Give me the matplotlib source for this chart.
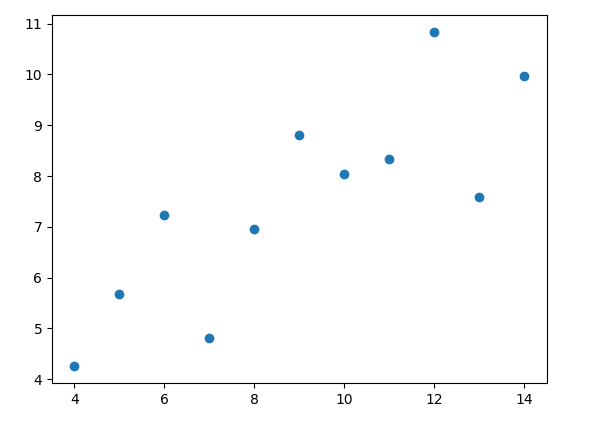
import matplotlib
matplotlib.use("Agg")
import matplotlib.pyplot as plt

x = [10, 8, 13, 9, 11, 14, 6, 4, 12, 7, 5]
y = [8.04, 6.95, 7.58, 8.81, 8.33, 9.96, 7.24, 4.26, 10.84, 4.82, 5.68]

fig, ax = plt.subplots(figsize=(5.9, 4.41), dpi=100)
fig.subplots_adjust(left=0.088, right=0.927, top=0.966, bottom=0.132)
ax.scatter(x, y, color="#1f77b4")
ax.set_xticks([4, 6, 8, 10, 12, 14])
ax.set_yticks([4, 5, 6, 7, 8, 9, 10, 11])
fig.savefig("out.png", dpi=100)
